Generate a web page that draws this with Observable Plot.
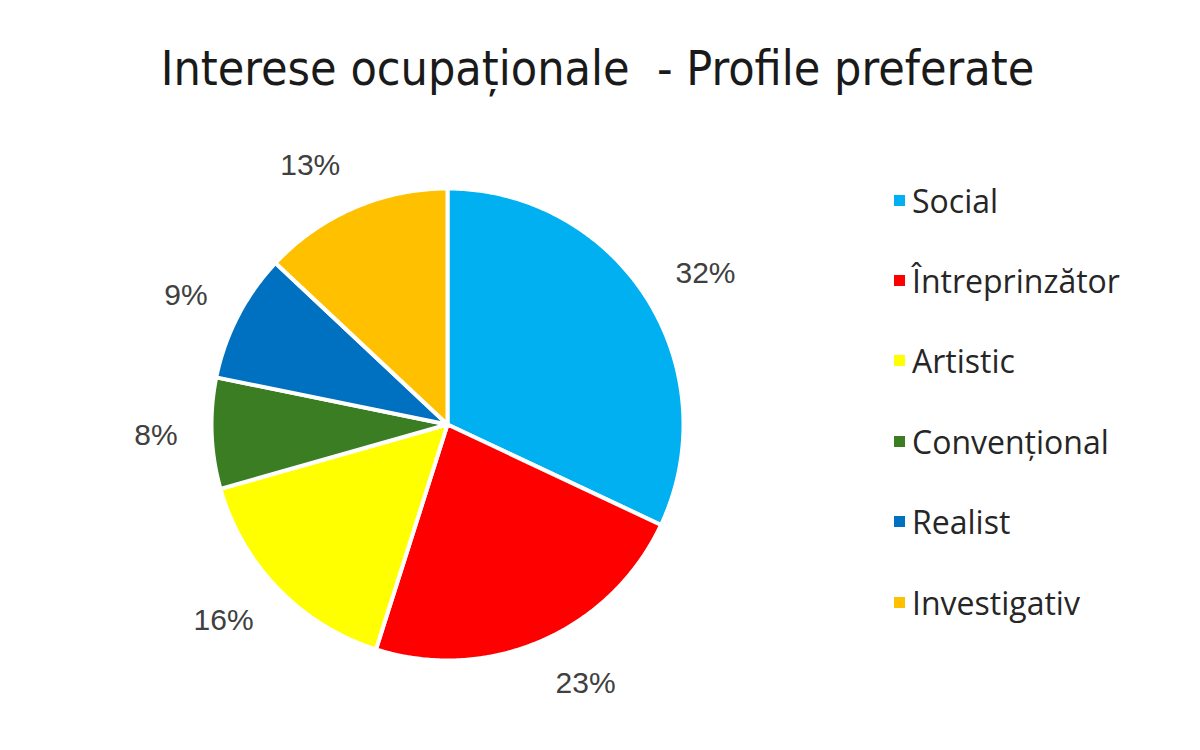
<!DOCTYPE html>
<html>
<head>
<meta charset="utf-8">
<script src="https://cdn.jsdelivr.net/npm/d3@7"></script>
<script src="https://cdn.jsdelivr.net/npm/@observablehq/plot@0.6"></script>
<style>
  html, body { margin: 0; padding: 0; background: #fff; }
  #wrap { position: relative; width: 1200px; height: 750px; overflow: hidden; }
  #title { position: absolute; left: 0; top: 40px; width: 1195px; text-align: center;
    font-family: "DejaVu Sans Condensed", "DejaVu Sans", sans-serif; font-size: 48px; color: #1a1a1a; white-space: pre; line-height: normal; }
  #chart { position: absolute; left: 0; top: 110px; }
  #legend { position: absolute; left: 894px; top: 160px; font-family: "Open Sans", sans-serif; font-size: 32px; color: #262626; }
  .row { height: 80.4px; display: flex; align-items: center; }
  .sw { width: 11px; height: 11px; margin-right: 7px; }
</style>
</head>
<body>
<div id="wrap">
  <div id="title"></div>
  <div id="chart"></div>
  <div id="legend"></div>
</div>
<script>
const title = "Interese ocupaționale  - Profile preferate";
const categories = ["Social", "Întreprinzător", "Artistic", "Convențional", "Realist", "Investigativ"];
const values = [32.0, 22.9, 15.7, 7.6, 8.8, 13.0];
const labels = ["32%", "23%", "16%", "8%", "9%", "13%"];
const colors = ["#00B0F0", "#FF0000", "#FFFF00", "#3A7D22", "#0070C0", "#FFC000"];

document.getElementById("title").textContent = title;

// layout (pixels)
const W = 860, H = 640, CX = 447, CY = 314, R = 236;
const LABEL_GAP = 34, LABEL_HALF_H = 12;

const arcs = d3.pie().sort(null).value(d => d)(values);
const polys = [];
arcs.forEach((a, i) => {
  polys.push({cat: categories[i], x: 0, y: 0});
  const n = Math.max(4, Math.ceil((a.endAngle - a.startAngle) / 0.01));
  for (let k = 0; k <= n; k++) {
    const t = a.startAngle + (a.endAngle - a.startAngle) * k / n;
    polys.push({cat: categories[i], x: Math.sin(t), y: Math.cos(t)});
  }
  polys.push({cat: categories[i], x: 0, y: 0});
});
const labelData = arcs.map((a, i) => {
  const m = (a.startAngle + a.endAngle) / 2;
  const k = (R + LABEL_GAP) / R;
  return {
    label: labels[i],
    right: Math.sin(m) >= 0,
    x: k * Math.sin(m),
    y: k * Math.cos(m) + Math.cos(m) * LABEL_HALF_H / R
  };
});

const textOpts = {x: "x", y: "y", text: "label", fontSize: 30, fill: "#404040", fontFamily: "Liberation Sans, Arial, sans-serif"};

const chart = Plot.plot({
  width: W, height: H,
  margin: 0,
  x: {domain: [-CX / R, (W - CX) / R], axis: null},
  y: {domain: [-(H - CY) / R, CY / R], axis: null},
  color: {domain: categories, range: colors},
  marks: [
    Plot.line(polys, {x: "x", y: "y", z: "cat", fill: "cat", stroke: "white", strokeWidth: 4, strokeLinejoin: "round", curve: "linear"}),
    Plot.text(labelData.filter(d => d.right), {...textOpts, textAnchor: "start"}),
    Plot.text(labelData.filter(d => !d.right), {...textOpts, textAnchor: "end"})
  ]
});
document.getElementById("chart").appendChild(chart);

const legend = document.getElementById("legend");
categories.forEach((c, i) => {
  const row = document.createElement("div");
  row.className = "row";
  const sw = document.createElement("div");
  sw.className = "sw";
  sw.style.background = colors[i];
  const tx = document.createElement("span");
  tx.textContent = c;
  row.appendChild(sw); row.appendChild(tx);
  legend.appendChild(row);
});
</script>
</body>
</html>
